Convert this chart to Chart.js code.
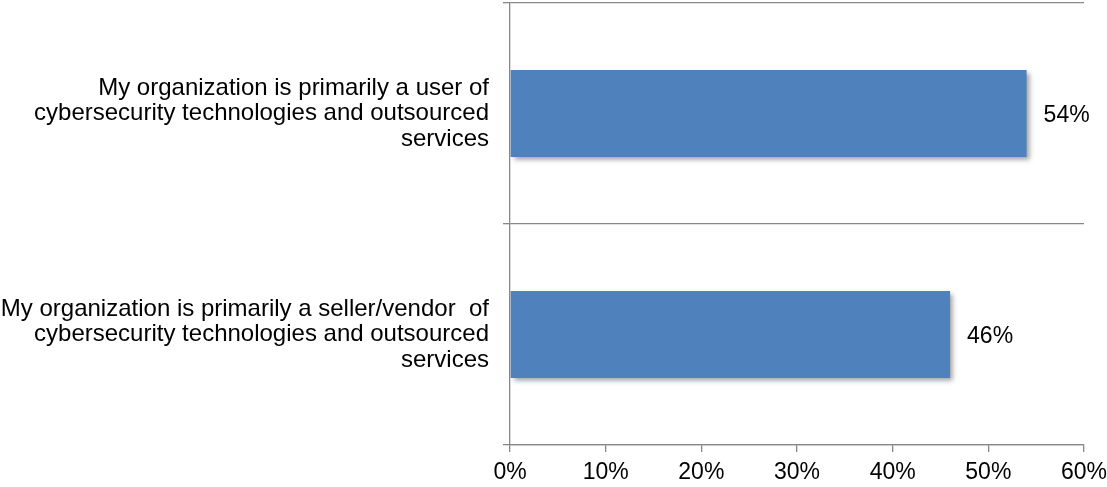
<!DOCTYPE html>
<html>
<head>
<meta charset="utf-8">
<script src="https://cdn.jsdelivr.net/npm/chart.js@4/dist/chart.umd.min.js"></script>
<style>
  html, body { margin: 0; padding: 0; background: #ffffff; }
  #wrap { width: 1107px; height: 487px; position: relative; }
</style>
</head>
<body>
<div id="wrap"><canvas id="chart" width="1107" height="487"></canvas></div>
<script>
// Survey categories (one multi-line label each)
const categories = [
  ["My organization is primarily a user of", "cybersecurity technologies and outsourced", "services"],
  ["My organization is primarily a seller/vendor  of", "cybersecurity technologies and outsourced", "services"]
];
// Share of respondents, percent
const shares = [54, 46];
// Axis range and step, percent
const axisMin = 0;
const axisMax = 60;
const axisStep = 10;

const FONT = "'Liberation Sans', Arial, sans-serif";
const GRID = "#888888";

// Soft drop shadow under the bars
const barShadow = {
  id: 'barShadow',
  beforeDatasetDraw(chart) {
    const ctx = chart.ctx;
    ctx.save();
    ctx.shadowColor = 'rgba(0,0,0,0.38)';
    ctx.shadowBlur = 5;
    ctx.shadowOffsetX = 3;
    ctx.shadowOffsetY = 3;
  },
  afterDatasetDraw(chart) {
    chart.ctx.restore();
  }
};

// Percentage label to the right of each bar
const valueLabels = {
  id: 'valueLabels',
  afterDatasetsDraw(chart) {
    const ctx = chart.ctx;
    const meta = chart.getDatasetMeta(0);
    ctx.save();
    ctx.font = "23px " + FONT;
    ctx.fillStyle = '#000000';
    ctx.textAlign = 'left';
    ctx.textBaseline = 'middle';
    meta.data.forEach((bar, i) => {
      ctx.fillText(shares[i] + '%', bar.x + 17, bar.y + 2);
    });
    ctx.restore();
  }
};

new Chart(document.getElementById('chart'), {
  type: 'bar',
  data: {
    labels: categories,
    datasets: [{
      data: shares,
      backgroundColor: '#4f81bd',
      borderWidth: 0,
      categoryPercentage: 1.0,
      barPercentage: 0.394
    }]
  },
  options: {
    indexAxis: 'y',
    responsive: false,
    animation: false,
    layout: { padding: { top: 3, right: 23, left: 0, bottom: 0 } },
    plugins: {
      legend: { display: false },
      tooltip: { enabled: false }
    },
    scales: {
      x: {
        min: axisMin,
        max: axisMax,
        ticks: {
          stepSize: axisStep,
          color: '#000000',
          font: { family: FONT, size: 23 },
          padding: 7,
          maxRotation: 0,
          callback: v => v + '%'
        },
        grid: {
          drawOnChartArea: false,
          drawTicks: true,
          tickLength: 7,
          color: GRID,
          lineWidth: 1.3
        },
        border: { color: GRID, width: 1.3 },
        afterFit(scale) {
          scale.height = 42;
          scale.paddingLeft = 0;
          scale.paddingRight = 0;
        }
      },
      y: {
        ticks: {
          color: '#000000',
          font: { family: FONT, size: 24, lineHeight: 1.0625 },
          padding: 14,
          crossAlign: 'near'
        },
        grid: {
          offset: true,
          drawOnChartArea: true,
          tickLength: 7,
          color: GRID,
          lineWidth: 1.3
        },
        border: { color: GRID, width: 1.3 },
        afterFit(scale) {
          scale.width = 510;
          scale.paddingTop = 0;
          scale.paddingBottom = 0;
        }
      }
    }
  },
  plugins: [barShadow, valueLabels]
});
</script>
</body>
</html>
